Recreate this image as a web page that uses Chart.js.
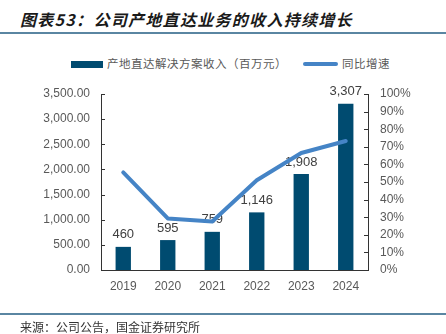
<!DOCTYPE html>
<html>
<head>
<meta charset="utf-8">
<script src="https://cdn.jsdelivr.net/npm/chart.js@4.4.1/dist/chart.umd.min.js"></script>
<style>
  html, body { margin: 0; padding: 0; background: #fff; }
  body { width: 446px; height: 334px; position: relative; overflow: hidden;
         font-family: "Liberation Sans", Arial, "Noto Sans CJK SC", sans-serif; }
  #title { position: absolute; left: 20px; top: 7px; font-size: 16px; font-weight: bold;
           font-style: italic; letter-spacing: 1.3px; color: #1a1a1a;
           font-family: "Noto Sans CJK SC", sans-serif; white-space: nowrap; }
  .rule { position: absolute; left: 0; width: 446px; height: 2px; background: #5a86a2; }
  #source { position: absolute; left: 20px; top: 320px; font-size: 12px; color: #333;
            font-family: "Noto Sans CJK SC", sans-serif; white-space: nowrap; line-height: 14px; }
  #legend { position: absolute; top: 55px; left: 0; height: 16px; font-size: 11.5px; color: #595959;
            letter-spacing: 0.5px; font-family: "Noto Sans CJK SC", sans-serif; }
  .item { position: absolute; top: 0; white-space: nowrap; line-height: 16px; }
  .sw { position: absolute; }
  #wrap { position: absolute; left: 0; top: 0; width: 446px; height: 334px; }
</style>
</head>
<body>
<div id="title">图表53：公司产地直达业务的收入持续增长</div>
<div class="rule" style="top:32px"></div>
<div id="legend">
  <div class="sw" style="left:71px; top:6px; width:32px; height:7px; background:#004b70;"></div>
  <div class="item" style="left:107px;">产地直达解决方案收入（百万元）</div>
  <div class="sw" style="left:303px; top:7px; width:35px; height:4px; border-radius:2px; background:#4584c6;"></div>
  <div class="item" style="left:342px;">同比增速</div>
</div>
<div id="wrap"><canvas id="chart"></canvas></div>
<div class="rule" style="top:313px"></div>
<div id="source">来源：公司公告，国金证券研究所</div>
<script>
// Yearly figures
const years = ["2019", "2020", "2021", "2022", "2023", "2024"];
const revenue = [460, 595, 759, 1146, 1908, 3307];           // 百万元
const growth = [0.555, 0.293, 0.276, 0.51, 0.665, 0.733];   // 同比增速
const leftTicks = [0, 500, 1000, 1500, 2000, 2500, 3000, 3500];
const rightTicks = [0, 0.1, 0.2, 0.3, 0.4, 0.5, 0.6, 0.7, 0.8, 0.9, 1.0];

const axisColor = "#333";
const tickFont = { family: "'Liberation Sans', Arial, sans-serif", size: 12 };

// Short tick marks drawn inside the plot area along both value axes
const innerTicks = {
  id: "innerTicks",
  afterDatasetsDraw(chart) {
    const { ctx, chartArea } = chart;
    ctx.save();
    ctx.strokeStyle = axisColor;
    ctx.lineWidth = 1;
    const yl = chart.scales.y, yr = chart.scales.y1;
    ctx.beginPath();
    leftTicks.forEach(v => {
      const p = Math.round(yl.getPixelForValue(v)) + 0.5;
      ctx.moveTo(chartArea.left, p); ctx.lineTo(chartArea.left + 4, p);
    });
    rightTicks.forEach(v => {
      const p = Math.round(yr.getPixelForValue(v)) + 0.5;
      ctx.moveTo(chartArea.right - 4, p); ctx.lineTo(chartArea.right, p);
    });
    ctx.stroke();
    ctx.restore();
  }
};

// Value labels above each bar
const barLabels = {
  id: "barLabels",
  beforeDatasetsDraw(chart) {
    const { ctx } = chart;
    const idx = chart.data.datasets.findIndex(d => d.type === "bar");
    const meta = chart.getDatasetMeta(idx);
    ctx.save();
    ctx.font = "13px 'Liberation Sans', Arial, sans-serif";
    ctx.fillStyle = "#404040";
    ctx.textAlign = "center";
    ctx.textBaseline = "middle";
    meta.data.forEach((bar, i) => {
      ctx.fillText(revenue[i].toLocaleString("en-US"), bar.x, bar.y - 12);
    });
    ctx.restore();
  }
};

new Chart(document.getElementById("chart"), {
  data: {
    labels: years,
    datasets: [
      {
        type: "line", label: "同比增速", data: growth, yAxisID: "y1", order: 0,
        borderColor: "#4584c6", borderWidth: 4, pointRadius: 0, tension: 0,
        borderCapStyle: "round", borderJoinStyle: "round", fill: false
      },
      {
        type: "bar", label: "产地直达解决方案收入（百万元）", data: revenue, yAxisID: "y", order: 1,
        backgroundColor: "#004b70", categoryPercentage: 1, barPercentage: 0.345
      }
    ]
  },
  options: {
    responsive: true,
    maintainAspectRatio: false,
    animation: false,
    events: [],
    layout: { padding: { top: 94, left: 0, right: 0, bottom: 0 } },
    plugins: { legend: { display: false }, tooltip: { enabled: false } },
    scales: {
      x: {
        grid: { display: false, drawTicks: false },
        border: { display: true, color: axisColor, width: 1 },
        ticks: { font: tickFont, color: "#595959", padding: 9, maxRotation: 0 },
        afterFit(s) { s.height = 64; }
      },
      y: {
        position: "left", min: 0, max: 3500,
        afterBuildTicks(s) { s.ticks = leftTicks.map(v => ({ value: v })); },
        grid: { display: false, drawTicks: false },
        border: { display: true, color: axisColor, width: 1 },
        ticks: {
          font: tickFont, color: "#595959", padding: 11,
          callback: v => v.toLocaleString("en-US", { minimumFractionDigits: 2, maximumFractionDigits: 2 })
        },
        afterFit(s) { s.width = 101; }
      },
      y1: {
        position: "right", min: 0, max: 1,
        afterBuildTicks(s) { s.ticks = rightTicks.map(v => ({ value: v })); },
        grid: { display: false, drawTicks: false },
        border: { display: true, color: axisColor, width: 1 },
        ticks: {
          font: tickFont, color: "#595959", padding: 12,
          callback: v => Math.round(v * 100) + "%"
        },
        afterFit(s) { s.width = 78; }
      }
    }
  },
  plugins: [innerTicks, barLabels]
});
</script>
</body>
</html>
